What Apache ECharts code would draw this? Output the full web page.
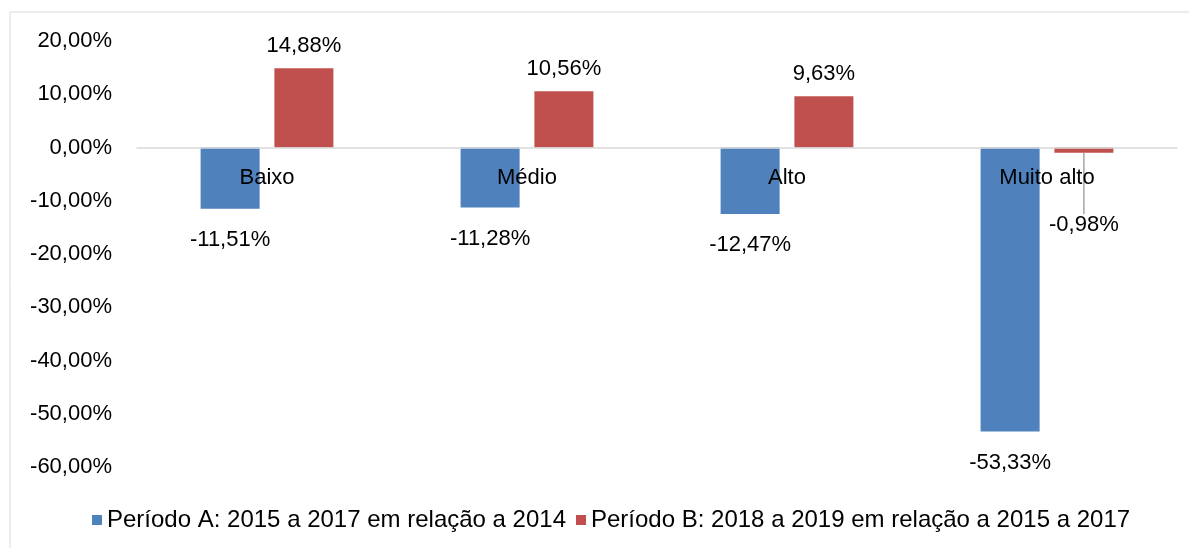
<!DOCTYPE html>
<html>
<head>
<meta charset="utf-8">
<script src="https://cdn.jsdelivr.net/npm/echarts@6/dist/echarts.min.js"></script>
<style>
html, body { margin: 0; padding: 0; background: #fff; }
#chart { width: 1189px; height: 548px; }
</style>
</head>
<body>
<div id="chart"></div>
<script>
// dados
var categorias = ['Baixo', 'Médio', 'Alto', 'Muito alto'];
var periodoA = [-11.51, -11.28, -12.47, -53.33];
var periodoB = [14.88, 10.56, 9.63, -0.98];
var nomeA = 'Período A: 2015 a 2017 em relação a 2014';
var nomeB = 'Período B: 2018 a 2019 em relação a 2015 a 2017';

var fonte = '"Liberation Sans", Arial, sans-serif';

// formata numero no padrao brasileiro
function fmt(v) {
    return v.toFixed(2).replace('.', ',') + '%';
}

// so o ultimo rotulo (negativo) tem linha guia
var dadosB = periodoB.map(function (v, i) {
    return i === 3 ? { value: v, labelLine: { show: true } } : v;
});

var option = {
    animation: false,
    textStyle: { fontFamily: fonte },
    graphic: [
        {
            type: 'rect',
            shape: { x: 10, y: 12, width: 1200, height: 600 },
            style: { fill: 'none', stroke: '#d9d9d9', lineWidth: 1 },
            silent: true
        },
        {
            type: 'text',
            left: 163, top: -22,
            style: { text: '(%)', font: '22px ' + fonte, fill: '#000' }
        }
    ],
    legend: {
        bottom: 11,
        left: 87,
        itemWidth: 10,
        itemHeight: 10,
        itemGap: 10,
        icon: 'rect',
        textStyle: { fontSize: 24, color: '#000', fontFamily: fonte },
        data: [nomeA, nomeB]
    },
    grid: { left: 137, right: 12, top: 41, bottom: 81, containLabel: false },
    xAxis: {
        type: 'category',
        data: categorias,
        z: 5,
        offset: -319.5,
        axisLine: { onZero: false, lineStyle: { color: '#d9d9d9', width: 1.5 } },
        axisTick: { show: false },
        axisLabel: { fontSize: 22, color: '#000', margin: 19, fontFamily: fonte }
    },
    yAxis: {
        type: 'value',
        min: -60,
        max: 20,
        interval: 10,
        splitLine: { show: false },
        axisLine: { show: false },
        axisTick: { show: false },
        axisLabel: {
            fontSize: 22, color: '#000', margin: 25, fontFamily: fonte,
            formatter: function (v) { return fmt(v); }
        }
    },
    series: [
        {
            name: nomeA,
            type: 'bar',
            data: periodoA,
            barWidth: '22.7%',
            barGap: '25%',
            itemStyle: { color: '#4f81bd' },
            label: {
                show: true, position: 'bottom', distance: 20,
                fontSize: 22, color: '#000', fontFamily: fonte,
                formatter: function (p) { return fmt(p.value); }
            }
        },
        {
            name: nomeB,
            type: 'bar',
            data: dadosB,
            barWidth: '22.7%',
            itemStyle: { color: '#c0504d' },
            label: {
                show: true, position: 'top', distance: 11,
                fontSize: 22, color: '#000', fontFamily: fonte,
                formatter: function (p) { return fmt(p.value); }
            },
            labelLine: { show: false, lineStyle: { color: '#a6a6a6', width: 1.5 } },
            labelLayout: function (params) {
                // rotulo do valor negativo afastado para baixo
                if (params.dataIndex === 3) {
                    return { y: 225, x: params.rect.x + params.rect.width / 2, align: 'center', verticalAlign: 'middle' };
                }
            }
        }
    ]
};

var chart = echarts.init(document.getElementById('chart'));
chart.setOption(option);
</script>
</body>
</html>
